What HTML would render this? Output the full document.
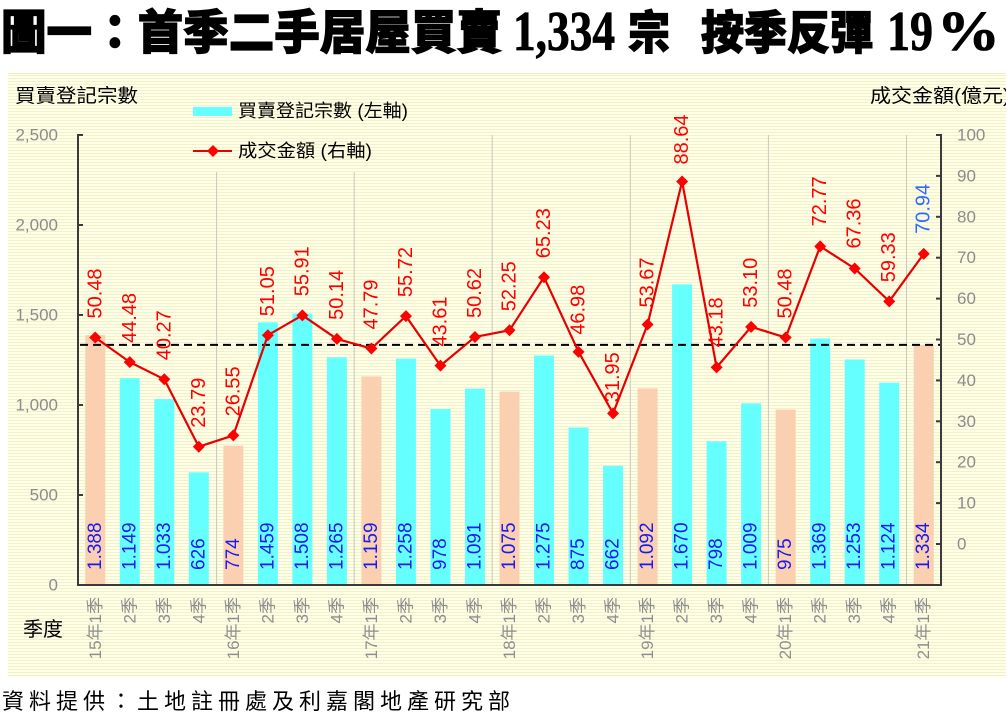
<!DOCTYPE html>
<html><head><meta charset="utf-8">
<style>
html,body{margin:0;padding:0;background:#fff;width:1006px;height:721px;overflow:hidden}
svg{display:block}
</style></head>
<body>
<svg width="1006" height="721" viewBox="0 0 1006 721" xmlns="http://www.w3.org/2000/svg" font-family="'Liberation Sans','Noto Sans CJK TC',sans-serif">
<defs>
<pattern id="bg" width="4" height="3" patternUnits="userSpaceOnUse">
<rect width="4" height="3" fill="#FFFFE6"/>
<rect width="4" height="1" fill="#F1F1D0"/>
</pattern>
</defs>
<rect width="1006" height="721" fill="#fff"/>
<!-- Title -->
<g font-family="'Noto Sans CJK TC','Noto Sans CJK SC',sans-serif" font-weight="900" fill="#000" stroke="#000" stroke-width="1.2">
<text x="1" y="49" font-size="47" textLength="501" lengthAdjust="spacingAndGlyphs">圖一：首季二手居屋買賣</text>
<text x="628" y="49" font-size="46" textLength="42" lengthAdjust="spacingAndGlyphs">宗</text>
<text x="701" y="49" font-size="46" textLength="172" lengthAdjust="spacingAndGlyphs">按季反彈</text>
</g>
<g font-family="'Liberation Serif',serif" font-weight="bold" fill="#000" stroke="#000" stroke-width="0.8">
<text x="513" y="50" font-size="56" textLength="102" lengthAdjust="spacingAndGlyphs">1,334</text>
<text x="887" y="50" font-size="56" textLength="46" lengthAdjust="spacingAndGlyphs">19</text>
<text x="937" y="50" font-size="56" textLength="63" lengthAdjust="spacingAndGlyphs">%</text>
</g>
<!-- chart background -->
<rect x="8" y="73" width="998" height="604" fill="url(#bg)"/>
<line x1="8" y1="73.5" x2="1006" y2="73.5" stroke="#EDEDD0" stroke-width="1"/>
<!-- header labels -->
<text x="15" y="102" font-size="19" textLength="123" lengthAdjust="spacingAndGlyphs" fill="#000">買賣登記宗數</text>
<text x="870" y="102" font-size="19" textLength="140" lengthAdjust="spacingAndGlyphs" fill="#000">成交金額(億元)</text>
<!-- legend -->
<rect x="193" y="107" width="39" height="9" fill="#66FFFF"/>
<text x="238" y="117" font-size="18" textLength="170" lengthAdjust="spacingAndGlyphs" fill="#000">買賣登記宗數 (左軸)</text>
<line x1="193" y1="151" x2="232" y2="151" stroke="#E80000" stroke-width="2"/>
<polygon points="213,145 219,151 213,157 207,151" fill="#FF0000"/>
<text x="238" y="157" font-size="18" textLength="134" lengthAdjust="spacingAndGlyphs" fill="#000">成交金額 (右軸)</text>
<!-- vertical year gridlines -->
<g stroke="#C9C9BC" stroke-width="1">
<line x1="216.6" y1="172" x2="216.6" y2="585"/>
<line x1="354.2" y1="172" x2="354.2" y2="585"/>
<line x1="492.2" y1="135" x2="492.2" y2="585"/>
<line x1="630.3" y1="135" x2="630.3" y2="585"/>
<line x1="768.4" y1="135" x2="768.4" y2="585"/>
<line x1="906.5" y1="135" x2="906.5" y2="585"/>
</g>
<!-- bars -->
<g>
<rect x="85.26" y="335.16" width="20" height="249.84" fill="#FAD0B0"/>
<rect x="119.78" y="378.18" width="20" height="206.82" fill="#66FFFF"/>
<rect x="154.30" y="399.06" width="20" height="185.94" fill="#66FFFF"/>
<rect x="188.82" y="472.32" width="20" height="112.68" fill="#66FFFF"/>
<rect x="223.34" y="445.68" width="20" height="139.32" fill="#FAD0B0"/>
<rect x="257.86" y="322.38" width="20" height="262.62" fill="#66FFFF"/>
<rect x="292.38" y="313.56" width="20" height="271.44" fill="#66FFFF"/>
<rect x="326.90" y="357.30" width="20" height="227.70" fill="#66FFFF"/>
<rect x="361.42" y="376.38" width="20" height="208.62" fill="#FAD0B0"/>
<rect x="395.94" y="358.56" width="20" height="226.44" fill="#66FFFF"/>
<rect x="430.46" y="408.96" width="20" height="176.04" fill="#66FFFF"/>
<rect x="464.98" y="388.62" width="20" height="196.38" fill="#66FFFF"/>
<rect x="499.50" y="391.50" width="20" height="193.50" fill="#FAD0B0"/>
<rect x="534.02" y="355.50" width="20" height="229.50" fill="#66FFFF"/>
<rect x="568.54" y="427.50" width="20" height="157.50" fill="#66FFFF"/>
<rect x="603.06" y="465.84" width="20" height="119.16" fill="#66FFFF"/>
<rect x="637.58" y="388.44" width="20" height="196.56" fill="#FAD0B0"/>
<rect x="672.10" y="284.40" width="20" height="300.60" fill="#66FFFF"/>
<rect x="706.62" y="441.36" width="20" height="143.64" fill="#66FFFF"/>
<rect x="741.14" y="403.38" width="20" height="181.62" fill="#66FFFF"/>
<rect x="775.66" y="409.50" width="20" height="175.50" fill="#FAD0B0"/>
<rect x="810.18" y="338.58" width="20" height="246.42" fill="#66FFFF"/>
<rect x="844.70" y="359.46" width="20" height="225.54" fill="#66FFFF"/>
<rect x="879.22" y="382.68" width="20" height="202.32" fill="#66FFFF"/>
<rect x="913.74" y="344.88" width="20" height="240.12" fill="#FAD0B0"/>
</g>
<!-- bar value labels -->
<g font-size="19" fill="#1A1AF0" dominant-baseline="central">
<text transform="translate(95.26,570) rotate(-90)">1.388</text>
<text transform="translate(129.78,570) rotate(-90)">1.149</text>
<text transform="translate(164.30,570) rotate(-90)">1.033</text>
<text transform="translate(198.82,570) rotate(-90)">626</text>
<text transform="translate(233.34,570) rotate(-90)">774</text>
<text transform="translate(267.86,570) rotate(-90)">1.459</text>
<text transform="translate(302.38,570) rotate(-90)">1.508</text>
<text transform="translate(336.90,570) rotate(-90)">1.265</text>
<text transform="translate(371.42,570) rotate(-90)">1.159</text>
<text transform="translate(405.94,570) rotate(-90)">1.258</text>
<text transform="translate(440.46,570) rotate(-90)">978</text>
<text transform="translate(474.98,570) rotate(-90)">1.091</text>
<text transform="translate(509.50,570) rotate(-90)">1.075</text>
<text transform="translate(544.02,570) rotate(-90)">1.275</text>
<text transform="translate(578.54,570) rotate(-90)">875</text>
<text transform="translate(613.06,570) rotate(-90)">662</text>
<text transform="translate(647.58,570) rotate(-90)">1.092</text>
<text transform="translate(682.10,570) rotate(-90)">1.670</text>
<text transform="translate(716.62,570) rotate(-90)">798</text>
<text transform="translate(751.14,570) rotate(-90)">1.009</text>
<text transform="translate(785.66,570) rotate(-90)">975</text>
<text transform="translate(820.18,570) rotate(-90)">1.369</text>
<text transform="translate(854.70,570) rotate(-90)">1.253</text>
<text transform="translate(889.22,570) rotate(-90)">1.124</text>
<text transform="translate(923.74,570) rotate(-90)">1.334</text>
</g>
<!-- dashed reference line -->
<line x1="80" y1="344.9" x2="941" y2="344.9" stroke="#000" stroke-width="2" stroke-dasharray="8,5"/>
<!-- axes -->
<g stroke="#3A3A3A" stroke-width="2">
<line x1="78" y1="134" x2="78" y2="586"/>
<line x1="941" y1="134" x2="941" y2="586"/>
<line x1="77" y1="585" x2="942" y2="585"/>
<line x1="78" y1="135" x2="83" y2="135"/>
<line x1="78" y1="225" x2="83" y2="225"/>
<line x1="78" y1="315" x2="83" y2="315"/>
<line x1="78" y1="405" x2="83" y2="405"/>
<line x1="78" y1="495" x2="83" y2="495"/>
<line x1="936" y1="135" x2="941" y2="135"/>
<line x1="936" y1="175.9" x2="941" y2="175.9"/>
<line x1="936" y1="216.8" x2="941" y2="216.8"/>
<line x1="936" y1="257.7" x2="941" y2="257.7"/>
<line x1="936" y1="298.6" x2="941" y2="298.6"/>
<line x1="936" y1="339.5" x2="941" y2="339.5"/>
<line x1="936" y1="380.4" x2="941" y2="380.4"/>
<line x1="936" y1="421.3" x2="941" y2="421.3"/>
<line x1="936" y1="462.2" x2="941" y2="462.2"/>
<line x1="936" y1="503.1" x2="941" y2="503.1"/>
<line x1="936" y1="544" x2="941" y2="544"/>
</g>
<!-- left tick labels -->
<g font-size="17" fill="#8C8C8C" text-anchor="end" dominant-baseline="central">
<text x="58" y="135">2,500</text>
<text x="58" y="225">2,000</text>
<text x="58" y="315">1,500</text>
<text x="58" y="405">1,000</text>
<text x="58" y="495">500</text>
<text x="58" y="585">0</text>
</g>
<!-- right tick labels -->
<g font-size="17" fill="#8C8C8C" dominant-baseline="central">
<text x="957" y="135">100</text>
<text x="957" y="175.9">90</text>
<text x="957" y="216.8">80</text>
<text x="957" y="257.7">70</text>
<text x="957" y="298.6">60</text>
<text x="957" y="339.5">50</text>
<text x="957" y="380.4">40</text>
<text x="957" y="421.3">30</text>
<text x="957" y="462.2">20</text>
<text x="957" y="503.1">10</text>
<text x="957" y="544">0</text>
</g>
<!-- line series -->
<polyline fill="none" stroke="#E80000" stroke-width="2.2" stroke-linejoin="round" points="95.26,337.54 129.78,362.08 164.30,379.30 198.82,446.70 233.34,435.41 267.86,335.21 302.38,315.33 336.90,338.93 371.42,348.54 405.94,316.11 440.46,365.64 474.98,336.96 509.50,330.30 544.02,277.21 578.54,351.85 613.06,413.32 647.58,324.49 682.10,181.46 716.62,367.39 751.14,326.82 785.66,337.54 820.18,246.37 854.70,268.50 889.22,301.34 923.74,253.86"/>
<g fill="#FF0000">
<polygon points="95.26,331.54 101.26,337.54 95.26,343.54 89.26,337.54"/>
<polygon points="129.78,356.08 135.78,362.08 129.78,368.08 123.78,362.08"/>
<polygon points="164.30,373.30 170.30,379.30 164.30,385.30 158.30,379.30"/>
<polygon points="198.82,440.70 204.82,446.70 198.82,452.70 192.82,446.70"/>
<polygon points="233.34,429.41 239.34,435.41 233.34,441.41 227.34,435.41"/>
<polygon points="267.86,329.21 273.86,335.21 267.86,341.21 261.86,335.21"/>
<polygon points="302.38,309.33 308.38,315.33 302.38,321.33 296.38,315.33"/>
<polygon points="336.90,332.93 342.90,338.93 336.90,344.93 330.90,338.93"/>
<polygon points="371.42,342.54 377.42,348.54 371.42,354.54 365.42,348.54"/>
<polygon points="405.94,310.11 411.94,316.11 405.94,322.11 399.94,316.11"/>
<polygon points="440.46,359.64 446.46,365.64 440.46,371.64 434.46,365.64"/>
<polygon points="474.98,330.96 480.98,336.96 474.98,342.96 468.98,336.96"/>
<polygon points="509.50,324.30 515.50,330.30 509.50,336.30 503.50,330.30"/>
<polygon points="544.02,271.21 550.02,277.21 544.02,283.21 538.02,277.21"/>
<polygon points="578.54,345.85 584.54,351.85 578.54,357.85 572.54,351.85"/>
<polygon points="613.06,407.32 619.06,413.32 613.06,419.32 607.06,413.32"/>
<polygon points="647.58,318.49 653.58,324.49 647.58,330.49 641.58,324.49"/>
<polygon points="682.10,175.46 688.10,181.46 682.10,187.46 676.10,181.46"/>
<polygon points="716.62,361.39 722.62,367.39 716.62,373.39 710.62,367.39"/>
<polygon points="751.14,320.82 757.14,326.82 751.14,332.82 745.14,326.82"/>
<polygon points="785.66,331.54 791.66,337.54 785.66,343.54 779.66,337.54"/>
<polygon points="820.18,240.37 826.18,246.37 820.18,252.37 814.18,246.37"/>
<polygon points="854.70,262.50 860.70,268.50 854.70,274.50 848.70,268.50"/>
<polygon points="889.22,295.34 895.22,301.34 889.22,307.34 883.22,301.34"/>
<polygon points="923.74,247.86 929.74,253.86 923.74,259.86 917.74,253.86"/>
</g>
<!-- line value labels -->
<g font-size="20" fill="#FF0000" dominant-baseline="central">
<text transform="translate(95.26,318.5) rotate(-90)">50.48</text>
<text transform="translate(129.78,343) rotate(-90)">44.48</text>
<text transform="translate(164.30,360.3) rotate(-90)">40.27</text>
<text transform="translate(198.82,427.7) rotate(-90)">23.79</text>
<text transform="translate(233.34,416.4) rotate(-90)">26.55</text>
<text transform="translate(267.86,316.2) rotate(-90)">51.05</text>
<text transform="translate(302.38,296.3) rotate(-90)">55.91</text>
<text transform="translate(336.90,319.9) rotate(-90)">50.14</text>
<text transform="translate(371.42,329.5) rotate(-90)">47.79</text>
<text transform="translate(405.94,297.1) rotate(-90)">55.72</text>
<text transform="translate(440.46,346.6) rotate(-90)">43.61</text>
<text transform="translate(474.98,318) rotate(-90)">50.62</text>
<text transform="translate(509.50,311.3) rotate(-90)">52.25</text>
<text transform="translate(544.02,258.2) rotate(-90)">65.23</text>
<text transform="translate(578.54,334.8) rotate(-90)">46.98</text>
<text transform="translate(613.06,402.3) rotate(-90)">31.95</text>
<text transform="translate(647.58,307.5) rotate(-90)">53.67</text>
<text transform="translate(682.10,164.5) rotate(-90)">88.64</text>
<text transform="translate(716.62,347.4) rotate(-90)">43.18</text>
<text transform="translate(751.14,307.8) rotate(-90)">53.10</text>
<text transform="translate(785.66,318.5) rotate(-90)">50.48</text>
<text transform="translate(820.18,226.4) rotate(-90)">72.77</text>
<text transform="translate(854.70,248.5) rotate(-90)">67.36</text>
<text transform="translate(889.22,282.3) rotate(-90)">59.33</text>
<text transform="translate(923.74,233.9) rotate(-90)" fill="#2E6BFF">70.94</text>
</g>
<!-- x-axis labels -->
<g font-size="17" fill="#8E8E8E" text-anchor="end" dominant-baseline="central">
<text transform="translate(95.26,597) rotate(-90)">15年1季</text>
<text transform="translate(129.78,597) rotate(-90)">2季</text>
<text transform="translate(164.30,597) rotate(-90)">3季</text>
<text transform="translate(198.82,597) rotate(-90)">4季</text>
<text transform="translate(233.34,597) rotate(-90)">16年1季</text>
<text transform="translate(267.86,597) rotate(-90)">2季</text>
<text transform="translate(302.38,597) rotate(-90)">3季</text>
<text transform="translate(336.90,597) rotate(-90)">4季</text>
<text transform="translate(371.42,597) rotate(-90)">17年1季</text>
<text transform="translate(405.94,597) rotate(-90)">2季</text>
<text transform="translate(440.46,597) rotate(-90)">3季</text>
<text transform="translate(474.98,597) rotate(-90)">4季</text>
<text transform="translate(509.50,597) rotate(-90)">18年1季</text>
<text transform="translate(544.02,597) rotate(-90)">2季</text>
<text transform="translate(578.54,597) rotate(-90)">3季</text>
<text transform="translate(613.06,597) rotate(-90)">4季</text>
<text transform="translate(647.58,597) rotate(-90)">19年1季</text>
<text transform="translate(682.10,597) rotate(-90)">2季</text>
<text transform="translate(716.62,597) rotate(-90)">3季</text>
<text transform="translate(751.14,597) rotate(-90)">4季</text>
<text transform="translate(785.66,597) rotate(-90)">20年1季</text>
<text transform="translate(820.18,597) rotate(-90)">2季</text>
<text transform="translate(854.70,597) rotate(-90)">3季</text>
<text transform="translate(889.22,597) rotate(-90)">4季</text>
<text transform="translate(923.74,597) rotate(-90)">21年1季</text>
</g>
<text x="23" y="636" font-size="20" textLength="40" lengthAdjust="spacingAndGlyphs" fill="#000">季度</text>
<!-- footer -->
<text x="2" y="709" font-size="22" textLength="508" lengthAdjust="spacing" fill="#000" font-family="'Noto Sans CJK TC','Noto Sans CJK SC',sans-serif">資料提供：土地註冊處及利嘉閣地產研究部</text>
</svg>
</body></html>
